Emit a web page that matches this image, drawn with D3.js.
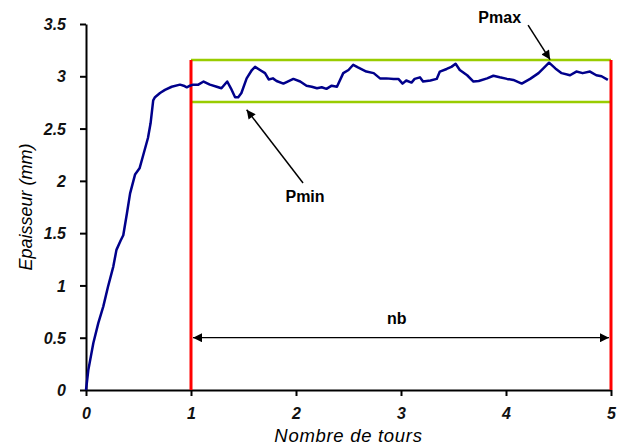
<!DOCTYPE html>
<html><head><meta charset="utf-8">
<script src="https://cdn.jsdelivr.net/npm/d3@7"></script>
<style>body{margin:0;background:#fff}svg{display:block}text{font-family:"Liberation Sans",Arial,sans-serif}</style>
</head><body><svg id="c" width="617" height="447"></svg>
<script>
// Data
const turns = [0,0.022,0.07,0.117,0.165,0.21,0.26,0.29,0.33,0.355,0.39,0.42,0.467,0.51,0.546,0.59,0.615,0.64,0.657,0.705,0.752,0.816,0.895,0.93,0.96,0.99,1.02,1.07,1.12,1.18,1.245,1.29,1.345,1.38,1.42,1.45,1.48,1.53,1.58,1.61,1.657,1.705,1.74,1.78,1.815,1.88,1.975,2.04,2.10,2.15,2.20,2.245,2.29,2.34,2.39,2.45,2.50,2.545,2.59,2.67,2.74,2.80,2.86,2.93,2.975,3.015,3.05,3.10,3.13,3.18,3.21,3.28,3.34,3.37,3.435,3.48,3.52,3.56,3.63,3.69,3.74,3.82,3.88,3.94,4.01,4.07,4.15,4.23,4.31,4.37,4.41,4.47,4.53,4.61,4.67,4.73,4.80,4.86,4.91,4.97];
const thickness = [0,0.19,0.45,0.64,0.80,0.99,1.18,1.34,1.43,1.48,1.69,1.88,2.06,2.12,2.25,2.41,2.55,2.77,2.80,2.84,2.87,2.90,2.92,2.91,2.895,2.91,2.92,2.92,2.95,2.92,2.90,2.885,2.95,2.885,2.80,2.80,2.84,2.98,3.06,3.09,3.06,3.03,2.97,2.98,2.955,2.93,2.975,2.95,2.91,2.90,2.885,2.895,2.88,2.91,2.90,3.03,3.06,3.11,3.085,3.045,3.03,2.98,2.98,2.975,2.975,2.93,2.96,2.94,2.975,2.99,2.95,2.96,2.975,3.045,3.07,3.09,3.12,3.06,3.01,2.95,2.955,2.98,3.005,2.99,2.975,2.965,2.93,2.975,3.03,3.09,3.13,3.075,3.03,3.01,3.045,3.03,3.045,3.01,3.00,2.965];
const xTicks = [0,1,2,3,4,5];
const yTicks = [0,0.5,1,1.5,2,2.5,3,3.5];
const pMax = 3.155, pMin = 2.753;
const nbStart = 1, nbEnd = 5, nbLevel = 0.5;
const labels = {x:"Nombre de tours", y:"Epaisseur (mm)", pmin:"Pmin", pmax:"Pmax", nb:"nb"};
// annotation anchors in data units
const pminArrow = [[2.067,1.98],[1.53,2.68]];
const pminText = [2.086,1.80];
const pmaxArrow = [[4.21,3.49],[4.42,3.16]];
const pmaxText = [3.94,3.51];
const nbText = [2.96,0.63];

const svg = d3.select("#c");
const x = d3.scaleLinear().domain([0,5]).range([86,611]);
const y = d3.scaleLinear().domain([0,3.5]).range([390,24]);

const defs = svg.append("defs");
defs.append("marker").attr("id","ah").attr("viewBox","0 0 10 10").attr("refX",10).attr("refY",5)
  .attr("markerWidth",12).attr("markerHeight",9).attr("markerUnits","userSpaceOnUse").attr("orient","auto-start-reverse")
  .append("path").attr("d","M0,0L10,5L0,10Z").attr("fill","#000");

// axes
const xa = svg.append("g").attr("transform","translate(0,390)")
  .call(d3.axisBottom(x).tickValues(xTicks).tickFormat(d3.format("d")).tickSize(6).tickSizeOuter(0));
const ya = svg.append("g").attr("transform","translate(86,0)")
  .call(d3.axisLeft(y).tickValues(yTicks).tickFormat(d=>String(d)).tickSize(6).tickSizeOuter(0));
[xa,ya].forEach(a=>{
  a.select(".domain").attr("stroke","#000").attr("stroke-width",2);
  a.selectAll(".tick line").attr("stroke","#000").attr("stroke-width",2);
  a.selectAll(".tick text").attr("font-size",16).attr("font-style","italic").attr("font-weight","bold").attr("fill","#111")
   .attr("font-family","Liberation Sans, Arial, sans-serif");
});
xa.selectAll(".tick text").attr("dy",null).attr("y",29);
ya.selectAll(".tick text").attr("x",-20).attr("dy","0.35em");

svg.append("text").attr("x",(x(0)+x(5))/2).attr("y",442).attr("text-anchor","middle")
  .attr("font-size",18.5).attr("letter-spacing",0.7).attr("font-style","italic").text(labels.x);
svg.append("text").attr("transform",`translate(32,${(y(0)+y(3.5))/2}) rotate(-90)`).attr("text-anchor","middle")
  .attr("font-size",18).attr("font-style","italic").text(labels.y);

// green band lines
[pMax,pMin].forEach(v=>{
  svg.append("line").attr("x1",x(nbStart)).attr("x2",x(nbEnd)).attr("y1",y(v)).attr("y2",y(v))
    .attr("stroke","#99cc00").attr("stroke-width",2.5);
});
// red verticals
[nbStart,nbEnd].forEach(v=>{
  svg.append("line").attr("x1",x(v)).attr("x2",x(v)).attr("y1",y(pMax)).attr("y2",y(0))
    .attr("stroke","#ff0000").attr("stroke-width",3);
});

// curve
svg.append("path").datum(d3.zip(turns,thickness))
  .attr("d",d3.line().x(d=>x(d[0])).y(d=>y(d[1])))
  .attr("fill","none").attr("stroke","#00008b").attr("stroke-width",2.5).attr("stroke-linejoin","round");

// nb double arrow
svg.append("line").attr("x1",x(nbStart)+2).attr("x2",x(nbEnd)-2).attr("y1",y(nbLevel)).attr("y2",y(nbLevel))
  .attr("stroke","#000").attr("stroke-width",1.2).attr("marker-start","url(#ah)").attr("marker-end","url(#ah)");
svg.append("text").attr("x",x(nbText[0])).attr("y",y(nbText[1])).attr("text-anchor","middle")
  .attr("font-size",16).attr("font-weight","bold").text(labels.nb);

// Pmin
svg.append("line").attr("x1",x(pminArrow[0][0])).attr("y1",y(pminArrow[0][1])).attr("x2",x(pminArrow[1][0])).attr("y2",y(pminArrow[1][1]))
  .attr("stroke","#000").attr("stroke-width",1.5).attr("marker-end","url(#ah)");
svg.append("text").attr("x",x(pminText[0])).attr("y",y(pminText[1])).attr("text-anchor","middle")
  .attr("font-size",16).attr("font-weight","bold").text(labels.pmin);
// Pmax
svg.append("line").attr("x1",x(pmaxArrow[0][0])).attr("y1",y(pmaxArrow[0][1])).attr("x2",x(pmaxArrow[1][0])).attr("y2",y(pmaxArrow[1][1]))
  .attr("stroke","#000").attr("stroke-width",1.5).attr("marker-end","url(#ah)");
svg.append("text").attr("x",x(pmaxText[0])).attr("y",y(pmaxText[1])).attr("text-anchor","middle")
  .attr("font-size",16).attr("font-weight","bold").text(labels.pmax);
</script></body></html>
